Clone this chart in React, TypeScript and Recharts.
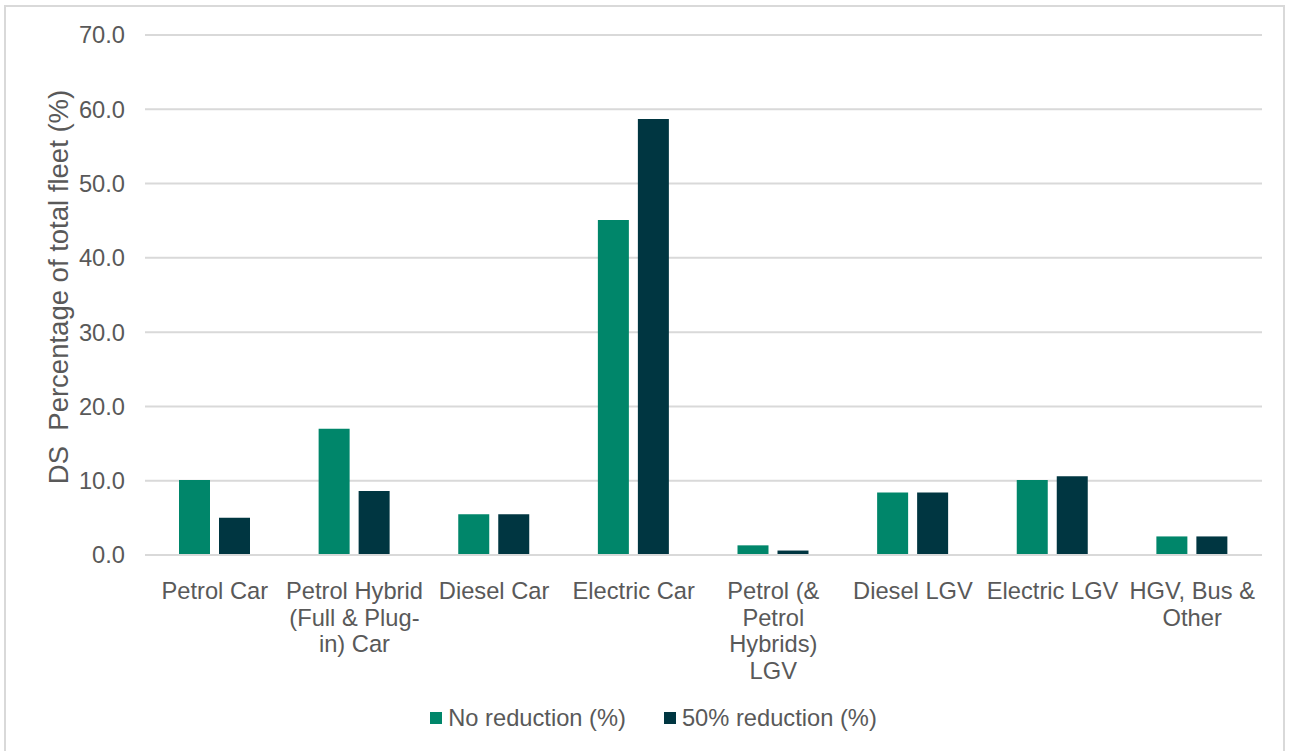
import React from "react"
import { Bar, BarChart, CartesianGrid, Legend, XAxis, YAxis } from "recharts"

// vehicle categories (line breaks as in the source chart)
const categories = [
  "Petrol Car",
  "Petrol Hybrid\n(Full & Plug-\nin) Car",
  "Diesel Car",
  "Electric Car",
  "Petrol (&\nPetrol\nHybrids)\nLGV",
  "Diesel LGV",
  "Electric LGV",
  "HGV, Bus &\nOther",
]
const noReduction = [10.1, 17.0, 5.5, 45.1, 1.3, 8.4, 10.1, 2.5]
const halfReduction = [5.0, 8.6, 5.5, 58.7, 0.6, 8.4, 10.6, 2.5]
const yTicks = [0, 10, 20, 30, 40, 50, 60, 70]

const GREEN = "#00866A"
const DARK = "#003641"
const TEXT = "#595959"
const FONT = "Arial, 'Liberation Sans', sans-serif"
const FS = 23.7

const data = categories.map((name, i) => ({
  name,
  noReduction: noReduction[i],
  halfReduction: halfReduction[i],
}))

const CategoryTick = (props: any) => {
  const { x, y, payload } = props
  const lines = String(payload.value).split("\n")
  return (
    <g transform={`translate(${x},${y})`}>
      <text textAnchor="middle" fill={TEXT} fontSize={FS} fontFamily={FONT}>
        {lines.map((line, i) => (
          <tspan key={i} x={0} y={36 + i * 26.6}>
            {line}
          </tspan>
        ))}
      </text>
    </g>
  )
}

const YLabel = () => (
  <text
    x={58}
    y={287}
    transform="rotate(-90, 58, 287)"
    textAnchor="middle"
    dominantBaseline="central"
    fill={TEXT}
    fontSize={27.5}
    fontFamily={FONT}
    style={{ whiteSpace: "pre" }}
  >
    {"DS  Percentage of total fleet (%)"}
  </text>
)

const LegendContent = () => (
  <div
    style={{
      display: "flex",
      justifyContent: "center",
      alignItems: "center",
      height: 30,
      paddingRight: 20,
      fontFamily: FONT,
      fontSize: FS,
      color: TEXT,
    }}
  >
    <span style={{ display: "flex", alignItems: "center", marginRight: 38 }}>
      <span style={{ width: 12, height: 12, background: GREEN, marginRight: 6 }} />
      No reduction (%)
    </span>
    <span style={{ display: "flex", alignItems: "center" }}>
      <span style={{ width: 12, height: 12, background: DARK, marginRight: 6 }} />
      50% reduction (%)
    </span>
  </div>
)

export default function App() {
  return (
    <div style={{ position: "absolute", left: 0, top: 0, width: 1293, height: 751, background: "#fff" }}>
      <div
        style={{
          position: "absolute",
          left: 4,
          top: 5,
          width: 1281,
          height: 750,
          border: "2px solid #d9d9d9",
          boxSizing: "border-box",
        }}
      />
      <BarChart
        width={1293}
        height={751}
        data={data}
        margin={{ top: 35, right: 31, left: 65, bottom: 18 }}
        barGap={9}
        barSize={31}
        style={{ position: "absolute", left: 0, top: 0 }}
      >
        <CartesianGrid vertical={false} stroke="#d9d9d9" strokeWidth={2} />
        <XAxis
          dataKey="name"
          height={148}
          interval={0}
          tick={<CategoryTick />}
          tickLine={false}
          axisLine={{ stroke: "#d9d9d9", strokeWidth: 2 }}
        />
        <YAxis
          width={80}
          domain={[0, 70]}
          ticks={yTicks}
          tickFormatter={(v: number) => v.toFixed(1)}
          tick={{ fill: TEXT, fontSize: FS, fontFamily: FONT }}
          tickMargin={14}
          tickLine={false}
          axisLine={false}
          label={<YLabel />}
        />
        <Legend verticalAlign="bottom" content={<LegendContent />} />
        <Bar dataKey="noReduction" name="No reduction (%)" fill={GREEN} isAnimationActive={false} />
        <Bar dataKey="halfReduction" name="50% reduction (%)" fill={DARK} isAnimationActive={false} />
      </BarChart>
    </div>
  )
}
